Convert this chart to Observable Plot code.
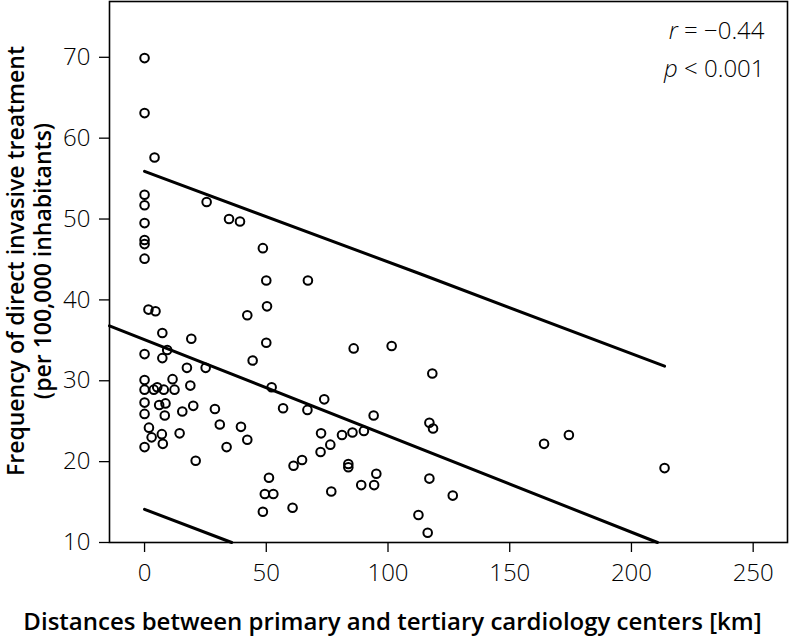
<!DOCTYPE html>
<html>
<head>
<meta charset="utf-8">
<script src="https://cdn.jsdelivr.net/npm/d3@7"></script>
<script src="https://cdn.jsdelivr.net/npm/@observablehq/plot@0.6"></script>
<style>
  html, body { margin: 0; padding: 0; background: #fff; }
  svg { display: block; }
</style>
</head>
<body>
<div id="chart"></div>
<script>
// Distances (km) between primary and tertiary cardiology centers
const distance = [
  0, 0, 4.1, 0, 0, 0, 0, 0, 0, 25.5,
  34.7, 39.2, 48.6, 50, 67.1, 1.6, 4.5, 42.2, 50.3, 7.3,
  19.2, 50, 85.9, 0, 9.3, 7.3, 44.4, 17.4, 25.1, 0,
  11.5, 0, 3.8, 5.2, 7.9, 12.3, 18.8, 52.2, 0, 6.0,
  8.6, 0, 8.3, 15.5, 20.0, 28.9, 56.9, 66.9, 73.8, 1.8,
  2.9, 7.1, 7.5, 0, 14.4, 30.9, 39.6, 42.2, 33.7, 21.0,
  72.5, 72.3, 76.3, 81.1, 85.4, 90.1, 61.2, 64.7, 83.7, 83.7,
  89.0, 51.1, 49.4, 52.9, 76.7, 48.6, 60.8, 101.5, 118.2, 94.1,
  117.0, 118.5, 164.1, 174.3, 213.6, 95.2, 94.3, 117.0, 126.6, 112.5,
  116.3
];
// Frequency of direct invasive treatment (per 100,000 inhabitants)
const frequency = [
  69.9, 63.1, 57.6, 53.0, 51.7, 49.5, 47.4, 46.9, 45.1, 52.1,
  50.0, 49.7, 46.4, 42.4, 42.4, 38.8, 38.6, 38.1, 39.2, 35.9,
  35.2, 34.7, 34.0, 33.3, 33.8, 32.8, 32.5, 31.6, 31.6, 30.1,
  30.2, 28.9, 28.9, 29.2, 28.9, 28.9, 29.4, 29.2, 27.3, 27.0,
  27.2, 25.9, 25.7, 26.2, 26.9, 26.5, 26.6, 26.4, 27.7, 24.2,
  23.0, 23.4, 22.2, 21.8, 23.5, 24.6, 24.3, 22.7, 21.8, 20.1,
  23.5, 21.2, 22.1, 23.3, 23.6, 23.8, 19.5, 20.2, 19.7, 19.3,
  17.1, 18.0, 16.0, 16.0, 16.3, 13.8, 14.3, 34.3, 30.9, 25.7,
  24.8, 24.1, 22.2, 23.3, 19.2, 18.5, 17.1, 17.9, 15.8, 13.4,
  11.2
];

// Regression line and prediction limits
const fitX = [-14.4, 210.7];
const fitY = [36.8, 10];
const upperX = [0, 113.4, 213.6];
const upperY = [55.9, 43.2, 31.8];
const lowerX = [0, 35.8];
const lowerY = [14.1, 10];

const xTicks = [0, 50, 100, 150, 200, 250];
const yTicks = [10, 20, 30, 40, 50, 60, 70];

const xLabel = "Distances between primary and tertiary cardiology centers [km]";
const yLabel1 = "Frequency of direct invasive treatment";
const yLabel2 = "(per 100,000 inhabitants)";
const statR = "r = \u22120.44";
const statP = "p < 0.001";

const points = distance.map((d, i) => ({x: d, y: frequency[i]}));
const toRows = (xs, ys) => xs.map((x, i) => ({x, y: ys[i]}));

const FONT = "'Open Sans', 'Noto Sans', sans-serif";
const labelStyle = {fontSize: 23, fontWeight: 600, fill: "black", textAnchor: "middle", lineAnchor: "middle"};
const statStyle = {frameAnchor: "top-right", fontSize: 24, fontWeight: 300, fill: "black", textAnchor: "end", lineAnchor: "middle", dx: -23};

const chart = Plot.plot({
  width: 789,
  height: 636,
  marginLeft: 109,
  marginRight: 2,
  marginTop: 1,
  marginBottom: 94,
  style: {fontFamily: FONT, background: "white", color: "black", overflow: "visible"},
  x: {domain: [-14.4, 264.1]},
  y: {domain: [10, 76.9]},
  marks: [
    Plot.axisX({ticks: xTicks, tickSize: 10, tickPadding: 11, fontSize: 24, fontWeight: 300, label: null, strokeWidth: 1.3}),
    Plot.axisY({ticks: yTicks, tickSize: 10, tickPadding: 9, fontSize: 24, fontWeight: 300, label: null, strokeWidth: 1.3}),
    Plot.frame({stroke: "black", strokeWidth: 1.6}),
    Plot.line(toRows(fitX, fitY), {x: "x", y: "y", stroke: "black", strokeWidth: 3}),
    Plot.line(toRows(upperX, upperY), {x: "x", y: "y", stroke: "black", strokeWidth: 3, curve: "monotone-x"}),
    Plot.line(toRows(lowerX, lowerY), {x: "x", y: "y", stroke: "black", strokeWidth: 3}),
    Plot.dot(points, {x: "x", y: "y", r: 4.3, stroke: "black", strokeWidth: 2, fill: "none"}),
    Plot.text([xLabel], {...labelStyle, fontSize: 24, frameAnchor: "bottom", dx: -56, dy: 80}),
    Plot.text([yLabel1], {...labelStyle, frameAnchor: "left", rotate: -90, dx: -93, dy: -11}),
    Plot.text([yLabel2], {...labelStyle, frameAnchor: "left", rotate: -90, dx: -66, dy: -11}),
    Plot.text([statR], {...statStyle, dy: 30}),
    Plot.text([statP], {...statStyle, dy: 68})
  ]
});
document.getElementById("chart").appendChild(chart);

// Italicise the leading variable letter of the statistics
d3.select(chart).selectAll("text").each(function() {
  const t = d3.select(this);
  const txt = t.text();
  if (txt === statR || txt === statP) {
    t.text(null);
    t.append("tspan").attr("font-style", "italic").text(txt.charAt(0));
    t.append("tspan").text(txt.slice(1));
  }
});
</script>
</body>
</html>
